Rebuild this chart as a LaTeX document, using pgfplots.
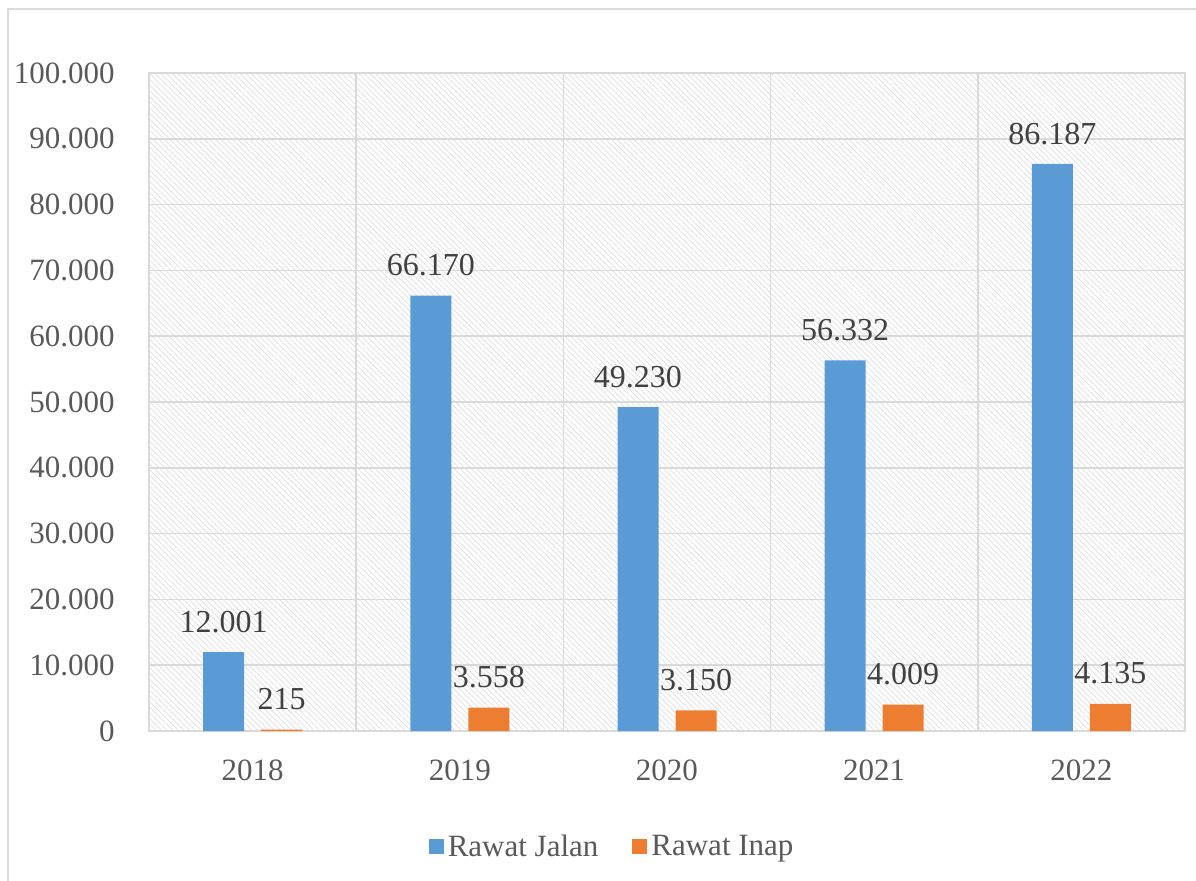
\documentclass[border=0pt]{standalone}
\usepackage{fontspec}
\setmainfont{Liberation Serif}
\usepackage{pgfplots}
\pgfplotsset{compat=1.18}
\usetikzlibrary{patterns.meta}
\definecolor{cJalan}{HTML}{5B9BD5}
\definecolor{cInap}{HTML}{ED7D31}
\definecolor{gridc}{HTML}{D9D9D9}
\definecolor{hatch}{HTML}{E2E2E2}
\definecolor{txt}{HTML}{595959}
\definecolor{lbl}{HTML}{404040}
\newcommand{\ff}{\fontsize{15.5}{18}\selectfont}
\begin{document}
\begin{tikzpicture}
\path[use as bounding box] (0pt,0pt) rectangle (598pt,440pt);
\draw[gridc, line width=0.8pt] (4pt,-5pt) -- (4pt,435.5pt) -- (605pt,435.5pt);
\begin{axis}[
  at={(74.5pt,74.5pt)}, anchor=south west,
  scale only axis, width=518pt, height=329pt,
  ybar,
  xmin=-0.5, xmax=4.5, ymin=0, ymax=100000,
  xtick={0,1,2,3,4},
  xticklabels={2018,2019,2020,2021,2022},
  minor xtick={-0.5,0.5,1.5,2.5,3.5,4.5},
  ytick={0,10000,...,100000},
  scaled y ticks=false,
  /pgf/number format/assume math mode=true,
  /pgf/number format/fixed,
  /pgf/number format/precision=0,
  /pgf/number format/1000 sep={.},
  ymajorgrids, xminorgrids,
  major grid style={gridc, line width=0.75pt},
  minor grid style={gridc, line width=0.75pt},
  axis line style={gridc, line width=0.75pt},
  major tick length=0pt, minor tick length=0pt,
  tick style={draw=none},
  axis background/.style={pattern={Lines[angle=-45,distance=2pt,line width=0.45pt]}, pattern color=hatch},
  tick label style={font=\ff, text=txt},
  yticklabel style={inner sep=0pt, xshift=-17pt},
  xticklabel style={inner sep=0pt, yshift=-14pt},
  bar width=20.5pt,
  nodes near coords,
  every node near coord/.append style={font=\fontsize{16}{18}\selectfont, text=lbl, inner sep=0pt, yshift=9.5pt},
  legend style={at={(0.448,-0.176)}, anchor=center, draw=none, fill=none,
    legend columns=2, font=\ff, text=txt,
    /tikz/every even column/.append style={column sep=15pt},
    nodes={inner sep=2pt}},
  clip=false,
]
\addplot[draw=none, fill=cJalan, bar shift=-14.5pt,
  legend image code/.code={\fill[cJalan] (0pt,-3.75pt) rectangle (7.5pt,3.75pt);}]
  coordinates {(0,12001) (1,66170) (2,49230) (3,56332) (4,86187)};
\addlegendentry{Rawat Jalan}
\addplot[draw=none, fill=cInap, bar shift=14.5pt,
  legend image code/.code={\fill[cInap] (0pt,-3.75pt) rectangle (7.5pt,3.75pt);}]
  coordinates {(0,215) (1,3558) (2,3150) (3,4009) (4,4135)};
\addlegendentry{Rawat Inap}
\end{axis}
\end{tikzpicture}
\end{document}
